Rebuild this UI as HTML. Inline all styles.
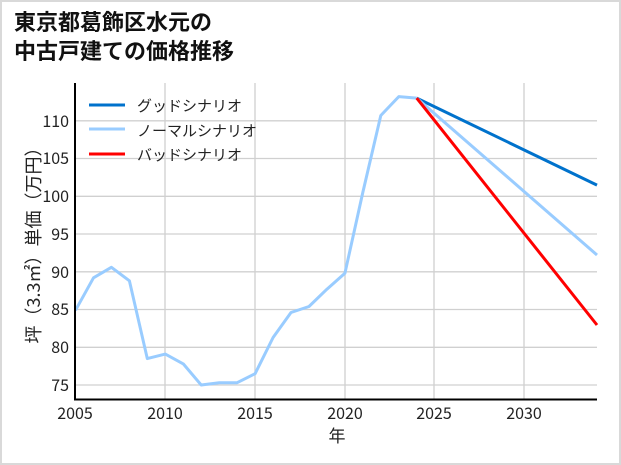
<!DOCTYPE html>
<html><head><meta charset="utf-8"><style>
html,body{margin:0;padding:0;background:#fff}
svg{display:block}
text{font-family:"Noto Sans CJK JP",sans-serif}
</style></head><body>
<svg width="621" height="465" viewBox="0 0 621 465" xmlns="http://www.w3.org/2000/svg">
<rect x="1" y="1" width="619" height="463" fill="#fff" stroke="#d9d9d9" stroke-width="2"/>
<text x="14" y="30" font-size="22" font-weight="bold" fill="#111">東京都葛飾区水元の</text>
<text x="14" y="59" font-size="22" font-weight="bold" fill="#111">中古戸建ての価格推移</text>
<g stroke="#d0d0d0" stroke-width="1.3">
<line x1="165" y1="83" x2="165" y2="399"/><line x1="255" y1="83" x2="255" y2="399"/>
<line x1="345" y1="83" x2="345" y2="399"/><line x1="434" y1="83" x2="434" y2="399"/>
<line x1="524" y1="83" x2="524" y2="399"/>
<line x1="75" y1="385" x2="597" y2="385"/><line x1="75" y1="347.3" x2="597" y2="347.3"/>
<line x1="75" y1="309.5" x2="597" y2="309.5"/><line x1="75" y1="271.8" x2="597" y2="271.8"/>
<line x1="75" y1="234" x2="597" y2="234"/><line x1="75" y1="196.3" x2="597" y2="196.3"/>
<line x1="75" y1="158.5" x2="597" y2="158.5"/><line x1="75" y1="120.8" x2="597" y2="120.8"/>
</g>
<g fill="none" stroke-width="3" stroke-linejoin="round">
<polyline stroke="#99ccff" points="75.5,310.3 93.5,277.8 111.4,267.3 129.4,280.8 147.3,358.6 165.3,354.1 183.3,363.9 201.2,385 219.2,382.7 237.1,382.7 255.1,373.7 273.1,337.5 291,312.5 309,306.5 326.9,289.2 344.9,273.3 362.8,192.5 380.8,115.5 398.8,96.6 416.7,98.1"/>
<line x1="416.7" y1="98.1" x2="597" y2="185.1" stroke="#0072cc"/>
<line x1="416.7" y1="98.1" x2="597" y2="255" stroke="#99ccff"/>
<line x1="416.7" y1="98.1" x2="597" y2="325" stroke="#ff0000"/>
</g>
<g stroke="#000" stroke-width="2"><line x1="75" y1="83" x2="75" y2="400"/><line x1="74" y1="399.5" x2="597" y2="399.5"/></g>
<g font-size="16" fill="#222" text-anchor="end">
<text x="69" y="391">75</text><text x="69" y="353">80</text><text x="69" y="315">85</text>
<text x="69" y="278">90</text><text x="69" y="240">95</text><text x="69" y="202">100</text>
<text x="69" y="164">105</text><text x="69" y="127">110</text>
</g>
<g font-size="16" fill="#222" text-anchor="middle">
<text x="75" y="419">2005</text><text x="165" y="419">2010</text><text x="255" y="419">2015</text>
<text x="345" y="419">2020</text><text x="434" y="419">2025</text><text x="524" y="419">2030</text>
<text x="337" y="442" font-size="17">年</text>
</g>
<text transform="translate(40,241) rotate(-90)" font-size="18" fill="#222" text-anchor="middle">坪（3.3㎡）単価（万円）</text>
<g stroke-width="3">
<line x1="89" y1="105" x2="125" y2="105" stroke="#0072cc"/>
<line x1="89" y1="129" x2="125" y2="129" stroke="#99ccff"/>
<line x1="89" y1="154" x2="125" y2="154" stroke="#ff0000"/>
</g>
<g font-size="15" fill="#222">
<text x="137" y="111">グッドシナリオ</text>
<text x="137" y="136">ノーマルシナリオ</text>
<text x="137" y="160">バッドシナリオ</text>
</g>
</svg>
</body></html>
